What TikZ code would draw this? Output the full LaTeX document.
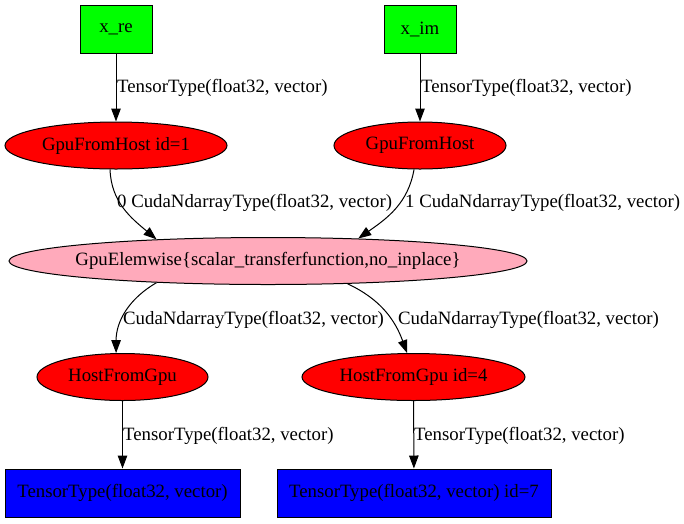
\documentclass[tikz,border=0pt]{standalone}
\usepackage{fontspec}
\setmainfont{Liberation Serif}
\usetikzlibrary{shapes.geometric,arrows.meta}
\definecolor{ingreen}{HTML}{00FF00}
\definecolor{opred}{HTML}{FF0000}
\definecolor{outblue}{HTML}{0000FF}
\definecolor{elemcol}{HTML}{FFAABB}
\begin{document}
\begin{tikzpicture}[x=1pt,y=1pt,
  every node/.style={font=\fontsize{18.8}{22}\selectfont, inner sep=0pt, text=black},
  inbox/.style={rectangle, draw=black, line width=1pt, fill=ingreen, minimum height=48pt},
  outbox/.style={rectangle, draw=black, line width=1pt, fill=outblue, minimum height=48pt},
  opnode/.style={ellipse, draw=black, line width=1pt, fill=opred, minimum height=47pt, inner xsep=-12pt},
  elemnode/.style={ellipse, draw=black, line width=1pt, fill=elemcol, minimum height=47pt, inner xsep=-12pt},
  conn/.style={draw=black, line width=1pt, -{Triangle[length=13pt,width=9.5pt]}},
  elabel/.style={anchor=west}]
\useasboundingbox (0,0) rectangle (684,-523);
% nodes
\node[inbox, minimum width=72pt] (xre) at (116,-29) {x\_re};
\node[inbox, minimum width=72pt] (xim) at (420,-29) {x\_im};
\node[opnode, minimum width=222pt] (g1) at (116,-145.5) {GpuFromHost id=1};
\node[opnode, minimum width=172pt] (g2) at (420,-145.5) {GpuFromHost};
\node[elemnode, minimum width=518pt] (el) at (268,-261) {GpuElemwise\{scalar\_transferfunction,no\_inplace\}};
\node[opnode, minimum width=171pt] (h1) at (122.5,-377) {HostFromGpu};
\node[opnode, minimum width=223pt] (h2) at (413.5,-377) {HostFromGpu id=4};
\node[outbox, minimum width=235pt] (o1) at (122.5,-493) {TensorType(float32, vector)};
\node[outbox, minimum width=274pt] (o2) at (414,-493) {TensorType(float32, vector) id=7};
% connectors
\draw[conn] (xre) -- (g1);
\draw[conn] (xim) -- (g2);
\draw[conn] (g1.256) to[out=-88, in=140] (el.169);
\draw[conn] (g2.256) to[out=-100, in=35] (el.14);
\draw[conn] (el.191) to[out=-150, in=90] (h1.105);
\draw[conn] (el.-16) to[out=-25, in=110] (h2.105);
\draw[conn] (h1) -- (o1);
\draw[conn] (h2) -- (o2);
% labels
\node[elabel] (l1) at (117,-88) {TensorType(float32, vector)};
\node[elabel] (l2) at (421,-88) {TensorType(float32, vector)};
\node[elabel] (l3) at (117,-203) {0 CudaNdarrayType(float32, vector)};
\node[elabel] (l4) at (405,-203) {1 CudaNdarrayType(float32, vector)};
\node[elabel] (l5) at (123,-320) {CudaNdarrayType(float32, vector)};
\node[elabel] (l6) at (398,-320) {CudaNdarrayType(float32, vector)};
\node[elabel] (l7) at (123,-436) {TensorType(float32, vector)};
\node[elabel] (l8) at (414,-436) {TensorType(float32, vector)};
\end{tikzpicture}
\end{document}
